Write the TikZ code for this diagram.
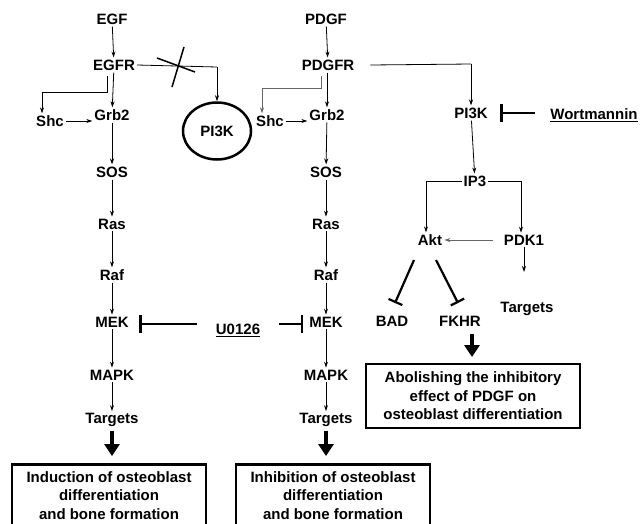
\documentclass[tikz,border=0pt]{standalone}
\usepackage{fontspec}
\setmainfont{Liberation Sans}
\usetikzlibrary{arrows.meta,shapes.geometric}
\begin{document}
\begin{tikzpicture}[x=1pt,y=-1pt,
  lab/.style={font=\fontsize{15}{16}\bfseries\selectfont, inner sep=2pt},
  arr/.style={-{Stealth[length=6pt,width=4pt]}, line width=0.8pt},
  garr/.style={arr, draw=black!60},
  inh/.style={-{Bar[width=18pt,line width=2.5pt]}, line width=2.5pt},
  sinh/.style={-{Bar[width=15pt,line width=2.2pt]}, line width=2.2pt},
  fat/.style={-{Triangle[length=12pt,width=15pt]}, line width=4pt},
  outbox/.style={draw, line width=2.5pt, align=center, font=\fontsize{15}{18.5}\bfseries\selectfont, inner sep=0pt}
]
\useasboundingbox (0,0) rectangle (643,523);
\clip (0,0) rectangle (643,523);
\fill[white] (0,0) rectangle (643,523);
% left column
\node[lab] (egf) at (112,19) {EGF};
\node[lab] (egfr) at (114,65) {EGFR};
\node[lab] (grb2a) at (112,115) {Grb2};
\node[lab] (shca) at (50,121) {Shc};
\node[lab] (sosa) at (112,172) {SOS};
\node[lab] (rasa) at (112,224) {Ras};
\node[lab] (rafa) at (112,275) {Raf};
\node[lab] (meka) at (112,322) {MEK};
\node[lab] (mapka) at (112,375) {MAPK};
\node[lab] (tga) at (112,420) {Targets};
\node[outbox, minimum width=194pt, minimum height=80pt, anchor=north] (boxa) at (109,463) {};
\node[outbox, draw=none, anchor=north] (ta) at (109,470) {Induction of osteoblast\\differentiation\\and bone formation};
% middle column
\node[lab] (pdgf) at (326,19) {PDGF};
\node[lab] (pdgfr) at (328,65) {PDGFR};
\node[lab] (grb2b) at (327,115) {Grb2};
\node[lab] (shcb) at (270,121) {Shc};
\node[lab] (sosb) at (326,172) {SOS};
\node[lab] (rasb) at (326,224) {Ras};
\node[lab] (rafb) at (326,275) {Raf};
\node[lab] (mekb) at (326,322) {MEK};
\node[lab] (mapkb) at (326,375) {MAPK};
\node[lab] (tgb) at (326,420) {Targets};
\node[outbox, minimum width=194pt, minimum height=80pt, anchor=north] (boxb) at (333,463) {};
\node[outbox, draw=none, anchor=north] (tb) at (333,470) {Inhibition of osteoblast\\differentiation\\and bone formation};
% PI3K ellipse
\node[draw, ellipse, line width=2.5pt, minimum width=68pt, minimum height=57pt, lab] (pik) at (217,131) {PI3K};
% right side
\node[lab] (pikr) at (471,113) {PI3K};
\node[lab] (wort) at (594,115) {\underline{Wortmannin}};
\node[lab] (ip3) at (475,181) {IP3};
\node[lab] (akt) at (430,240) {Akt};
\node[lab] (pdk) at (524,240) {PDK1};
\node[lab] (bad) at (392,321) {BAD};
\node[lab] (fkhr) at (460,321) {FKHR};
\node[lab] (tgc) at (527,309) {Targets};
\node[outbox, minimum width=214pt, minimum height=64pt, inner sep=2pt] (boxc) at (473,396) {Abolishing the inhibitory\\effect of PDGF on\\osteoblast differentiation};
\node[lab] (u) at (238,330) {\underline{U0126}};
% coordinates
\coordinate (a1) at (107,76);
\coordinate (a2) at (107,92);
\coordinate (a3) at (42,92);
\coordinate (b1) at (321,76);
\coordinate (b2) at (321,88);
\coordinate (b3) at (262,88);
\coordinate (p1) at (217,67);
\coordinate (r1) at (471,64);
\coordinate (i1) at (426,181);
\coordinate (i2) at (521,181);
% left chain
\draw[arr] (egf) -- (egfr);
\draw[arr] (egfr) -- (grb2a);
\draw[arr] (grb2a) -- (sosa);
\draw[arr] (sosa) -- (rasa);
\draw[arr] (rasa) -- (rafa);
\draw[arr] (rafa) -- (meka);
\draw[arr] (meka) -- (mapka);
\draw[arr] (mapka) -- (tga);
\draw[arr] (a1) -- (a2) -- (a3) -- (a3 |- shca.north);
\draw[arr] (shca) -- (grb2a.west |- shca);
\draw[line width=0.8pt] (egfr.east) -- (p1);
\draw[arr] (p1) -- (pik.north);
\draw[line width=1.5pt] (157,58) -- (195,72);
\draw[line width=1.5pt] (184,47) -- (172,87);
% middle chain
\draw[arr] (pdgf) -- (pdgfr);
\draw[arr] (pdgfr.south -| grb2b) -- (grb2b);
\draw[arr] (grb2b) -- (sosb);
\draw[arr] (sosb) -- (rasb);
\draw[arr] (rasb) -- (rafb);
\draw[arr] (rafb) -- (mekb);
\draw[arr] (mekb) -- (mapkb);
\draw[arr] (mapkb) -- (tgb);
\draw[garr] (b1) -- (b2) -- (b3) -- (b3 |- shcb.north);
\draw[arr] (shcb) -- (grb2b.west |- shcb);
\draw[line width=0.8pt] (pdgfr.east) ++(14,0) coordinate (pe) -- (r1);
\draw[arr] (r1) -- (pikr.north);
% right
\draw[inh] (wort.west) ++(-13,-2) coordinate (w1) -- (500,113);
\draw[arr] (pikr) -- (ip3);
\draw[line width=0.8pt] (ip3.west) -- (i1);
\draw[arr] (i1) -- (akt.north -| i1);
\draw[line width=0.8pt] (ip3.east) -- (i2);
\draw[arr] (i2) -- (pdk.north -| i2);
\draw[garr] (pdk.west) ++(-9,0) -- (akt.east);
\draw[arr] (pdk) -- ++(0,32);
\draw[sinh] (414,260) -- (395,303);
\draw[sinh] (436,260) -- (458,303);
\draw[fat] (472,334) -- (472,357);
% U0126
\draw[inh] (u.west) ++(-17,-6) coordinate (u1) -- (139,324);
\draw[inh] (u.east) ++(17,-6) coordinate (u2) -- (303,324);
% fat arrows
\draw[fat] (tga.south) ++(0,2) -- (112,456);
\draw[fat] (tgb.south) ++(0,2) -- (326,456);
\end{tikzpicture}
\end{document}
